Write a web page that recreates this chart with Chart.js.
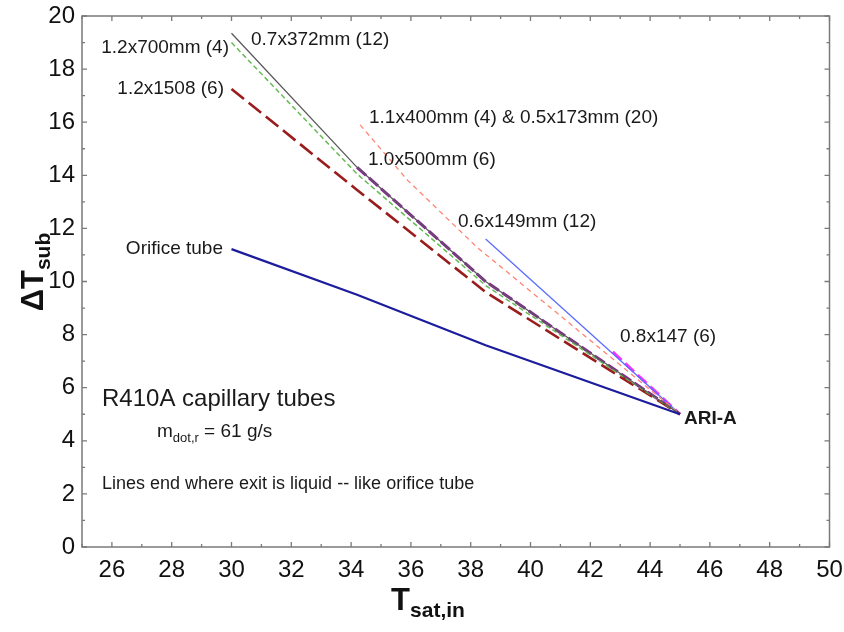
<!DOCTYPE html>
<html>
<head>
<meta charset="utf-8">
<script src="https://cdn.jsdelivr.net/npm/chart.js@4.4.1/dist/chart.umd.min.js"></script>
<style>
  html, body { margin: 0; padding: 0; background: #fff; }
  #wrap { width: 844px; height: 632px; }
</style>
</head>
<body>
<div id="wrap"><canvas id="c" width="844" height="632"></canvas></div>
<script>
// Inlet saturation temperature (°C) and subcooling (K) for each restrictor
const tsatOrifice = [30, 34.2, 38.5, 45];
const subOrifice  = [11.22, 9.5, 7.6, 5.0];

const tsat0372 = [30, 34.2, 38.5, 45];
const sub0372  = [19.35, 14.3, 10.0, 5.0];

const tsat1270 = [30, 34.2, 38.5, 45];
const sub1270  = [19.0, 14.05, 9.85, 5.0];

const tsat1215 = [30, 34.2, 38.5, 45];
const sub1215  = [17.25, 13.45, 9.6, 5.0];

const tsat1140 = [34.3, 35.9, 38.2, 40.9, 45];
const sub1140  = [15.9, 13.8, 11.3, 8.8, 5.0];

const tsat0615 = [38.5, 45];
const sub0615  = [11.6, 5.0];

const tsat1050 = [34.2, 38.5, 45];
const sub1050  = [14.3, 10.0, 5.0];

const tsat0814 = [42.75, 45];
const sub0814  = [7.35, 5.0];

const xTicks = [26, 28, 30, 32, 34, 36, 38, 40, 42, 44, 46, 48, 50];
const yTicks = [0, 2, 4, 6, 8, 10, 12, 14, 16, 18, 20];

const pts = (xs, ys) => xs.map((x, i) => ({ x: x, y: ys[i] }));

function series(xs, ys, color, width, dash) {
  return {
    data: pts(xs, ys),
    showLine: true,
    borderColor: color,
    backgroundColor: color,
    borderWidth: width,
    borderDash: dash || [],
    pointRadius: 0,
    tension: 0,
    fill: false
  };
}

const datasets = [
  series(tsatOrifice, subOrifice, '#1c1c9c', 2.2),
  series(tsat0372, sub0372, '#5a5a5a', 1.3),
  series(tsat1270, sub1270, '#66bb55', 1.5, [5, 3]),
  series(tsat1215, sub1215, '#9a1c1c', 2.6, [16, 6]),
  series(tsat1140, sub1140, '#ff8474', 1.3, [5, 4]),
  series(tsat0615, sub0615, '#5b6dff', 1.3),
  series(tsat1050, sub1050, '#8c1f9c', 3, [12, 4]),
  series(tsat0814, sub0814, '#ff30ff', 3, [12, 5])
];

// Text labels placed at pixel positions beside the curves
const notes = [
  { t: '1.2x700mm (4)', x: 229, y: 48, align: 'right' },
  { t: '0.7x372mm (12)', x: 251, y: 40, align: 'left' },
  { t: '1.2x1508 (6)', x: 224, y: 89, align: 'right' },
  { t: '1.1x400mm (4) & 0.5x173mm (20)', x: 369, y: 118, align: 'left' },
  { t: '1.0x500mm (6)', x: 368, y: 160, align: 'left' },
  { t: '0.6x149mm (12)', x: 458, y: 222, align: 'left' },
  { t: '0.8x147 (6)', x: 620, y: 337, align: 'left' },
  { t: 'Orifice tube', x: 223, y: 249, align: 'right' }
];

const framePlugin = {
  id: 'frame',
  afterDatasetsDraw(chart) {
    const { ctx, chartArea: a, scales } = chart;
    const xs = scales.x, ys = scales.y;
    ctx.save();
    ctx.strokeStyle = '#7a7a7a';
    ctx.lineWidth = 1.5;
    ctx.strokeRect(a.left, a.top, a.right - a.left, a.bottom - a.top);
    ctx.lineWidth = 1.3;
    ctx.beginPath();
    for (let v = 25; v <= 50; v++) {
      const p = xs.getPixelForValue(v);
      const len = v % 2 === 0 ? 5 : 3;
      ctx.moveTo(p, a.bottom); ctx.lineTo(p, a.bottom - len);
      ctx.moveTo(p, a.top); ctx.lineTo(p, a.top + len);
    }
    for (let v = 0; v <= 20; v++) {
      const p = ys.getPixelForValue(v);
      const len = v % 2 === 0 ? 5 : 3;
      ctx.moveTo(a.left, p); ctx.lineTo(a.left + len, p);
      ctx.moveTo(a.right, p); ctx.lineTo(a.right - len, p);
    }
    ctx.stroke();

    // annotations
    ctx.fillStyle = '#1a1a1a';
    ctx.textBaseline = 'middle';
    ctx.font = '19px "Liberation Sans", Arial, sans-serif';
    notes.forEach(n => { ctx.textAlign = n.align; ctx.fillText(n.t, n.x, n.y); });

    ctx.textAlign = 'left';
    ctx.font = 'bold 19px "Liberation Sans", Arial, sans-serif';
    ctx.fillText('ARI-A', 684, 419);

    ctx.font = '24px "Liberation Sans", Arial, sans-serif';
    ctx.fillText('R410A capillary tubes', 102, 399);

    ctx.font = '19px "Liberation Sans", Arial, sans-serif';
    ctx.fillText('m', 157, 432);
    let w = ctx.measureText('m').width;
    ctx.font = '13px "Liberation Sans", Arial, sans-serif';
    ctx.fillText('dot,r', 157 + w, 438);
    const w2 = ctx.measureText('dot,r').width;
    ctx.font = '19px "Liberation Sans", Arial, sans-serif';
    ctx.fillText(' = 61 g/s', 157 + w + w2, 432);

    ctx.font = '18px "Liberation Sans", Arial, sans-serif';
    ctx.fillText('Lines end where exit is liquid -- like orifice tube', 102, 484);

    // axis titles with subscripts
    ctx.fillStyle = '#111';
    ctx.textBaseline = 'alphabetic';
    ctx.font = 'bold 31px "Liberation Sans", Arial, sans-serif';
    const tw = ctx.measureText('T').width;
    ctx.font = 'bold 21px "Liberation Sans", Arial, sans-serif';
    const sw = ctx.measureText('sat,in').width;
    let x0 = 428 - (tw + sw) / 2;
    ctx.font = 'bold 31px "Liberation Sans", Arial, sans-serif';
    ctx.fillText('T', x0, 610);
    ctx.font = 'bold 21px "Liberation Sans", Arial, sans-serif';
    ctx.fillText('sat,in', x0 + tw, 617);

    ctx.translate(43, 272);
    ctx.rotate(-Math.PI / 2);
    ctx.font = 'bold 31px "Liberation Sans", Arial, sans-serif';
    const dw = ctx.measureText('\u0394T').width;
    ctx.font = 'bold 21px "Liberation Sans", Arial, sans-serif';
    const bw = ctx.measureText('sub').width;
    x0 = -(dw + bw) / 2;
    ctx.font = 'bold 31px "Liberation Sans", Arial, sans-serif';
    ctx.fillText('\u0394T', x0, 0);
    ctx.font = 'bold 21px "Liberation Sans", Arial, sans-serif';
    ctx.fillText('sub', x0 + dw, 7);
    ctx.restore();
  }
};

new Chart(document.getElementById('c'), {
  type: 'scatter',
  data: { datasets: datasets },
  options: {
    responsive: false,
    devicePixelRatio: 1,
    animation: false,
    layout: { padding: { top: 16, right: 14.5, left: 0, bottom: 0 } },
    plugins: { legend: { display: false }, tooltip: { enabled: false } },
    scales: {
      x: {
        type: 'linear', min: 25, max: 50,
        afterFit(s) { s.height = 85; s.paddingLeft = 0; s.paddingRight = 0; },
        afterBuildTicks(s) { s.ticks = xTicks.map(v => ({ value: v })); },
        grid: { display: false, drawTicks: false },
        border: { display: false },
        ticks: { color: '#111', padding: 9, maxRotation: 0, font: { size: 24, family: '"Liberation Sans", Arial, sans-serif' } }
      },
      y: {
        type: 'linear', min: 0, max: 20,
        afterFit(s) { s.width = 82; s.paddingTop = 0; s.paddingBottom = 0; },
        afterBuildTicks(s) { s.ticks = yTicks.map(v => ({ value: v })); },
        grid: { display: false, drawTicks: false },
        border: { display: false },
        ticks: { color: '#111', padding: 7, font: { size: 24, family: '"Liberation Sans", Arial, sans-serif' } }
      }
    }
  },
  plugins: [framePlugin]
});
</script>
</body>
</html>
